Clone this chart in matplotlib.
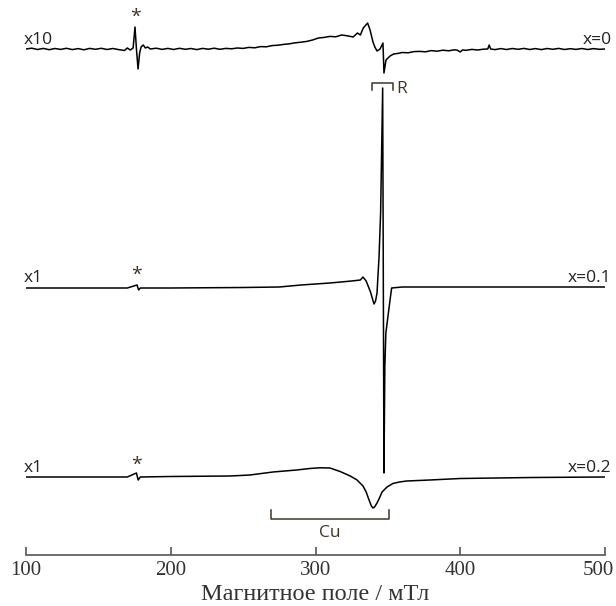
import numpy as np
import matplotlib
matplotlib.use('Agg')
from matplotlib import pyplot as plt
from matplotlib import transforms

# spectra: field (mT) and signal (arb. units, baseline = 0)
field_x0 = [100, 104, 108, 112, 116, 120, 124, 128, 132, 136, 140, 144, 148, 152, 156,
            160, 164, 168, 170, 172, 174, 175.3, 176.3, 177.4, 178.5, 179.5, 181, 182.5,
            184, 186, 190, 194, 198, 202, 206, 210, 214, 218, 222, 226, 230, 234, 238,
            242, 246, 250, 254, 258, 262, 266, 270, 274, 278, 282, 286, 290, 294, 298,
            302, 306, 310, 314, 318, 322, 326, 329, 331, 333, 336, 337.7, 339.7, 341,
            342.5, 344.6, 346.6, 347.3, 348.7, 351.5, 354, 357, 360, 364, 368, 372, 376,
            380, 384, 388, 392, 396, 398, 400, 401.5, 404, 408, 412, 416, 419, 420, 421,
            424, 428, 432, 436, 440, 444, 448, 452, 456, 460, 464, 468, 472, 476, 480,
            484, 488, 492, 496, 500]
signal_x0 = [0, 0.8, -0.5, 0.6, -0.7, 0.5, -0.4, 0.7, -0.6, 0.4, -0.8, 0.6, -0.3, 0.7, -0.5,
             0.5, -0.6, -1.5, 1, -1, 1, 22, 0, -20, -4, 2, 4, 1,
             2, 0, 0.8, -0.4, 0.6, -0.5, 0.7, -0.3, 0.5, -0.6, 0.6, -0.2, 0.8, -0.3, 0.6,
             0.2, 1, 0.6, 1.6, 1.2, 2.4, 2.2, 3.4, 3.8, 4.6, 5.2, 6.2, 6.8, 7.6, 9,
             11, 11.6, 12.6, 12.2, 14, 13.2, 12, 16, 14, 21, 26, 19, 7, 2,
             -2, 0, 6, -24, -11, -7, -5, -4.4, -3.5, -3.8, -2.6, -2.4, -2.8,
             -1.6, -2.2, -1.2, -1.8, -0.8, -1.2, -3, -1, -1.3, -0.4, -1, -0.2, 0, 4, 0,
             -0.6, 0.4, -0.5, 0.5, -0.3, 0.6, -0.5, 0.4, -0.6, 0.5, -0.3, 0.6, -0.5, 0.3, -0.4,
             0.5, -0.5, 0.4, -0.3, 0]

field_x01 = [100, 170, 176.7, 177.8, 179, 200, 250, 275, 290, 310, 325, 331, 332.8,
             335, 338, 340.4, 341.5, 342.5, 343.9, 345, 346.4, 347.3, 347.9, 348.6,
             351.5, 352.6, 360, 500]
signal_x01 = [-1, -1, 2, -3, -1, -1, -0.5, 0, 2, 4, 6, 7, 10,
              6, -5, -17, -14, -6, 30, 75, 199, -186, -80, -46,
              -13, -1, 0, 0]

field_x02 = [100, 170, 176.3, 177.5, 179, 200, 241, 254.7, 270.6, 287, 296, 303, 310,
             317, 324, 328.7, 332.8, 335, 337, 338.6, 339.7, 340.8, 342.5, 344.5, 346,
             349.4, 353.5, 358, 363, 379, 400, 450, 500]
signal_x02 = [0, 0, 4, -3, 0, 0.5, 1, 2, 5, 7, 8.5, 9.2, 9,
              5.5, 1, -3, -9, -15, -23, -29, -31, -30, -26, -20, -15,
              -10, -6.5, -5, -4, -3, -1.5, -0.5, 0]

offsets = [506, 268, 78]
gains = ['x10', 'x1', 'x1']
names = ['x=0', 'x=0.1', 'x=0.2']
star_field = [175.5, 176.7, 176.7]
star_height = [32, 12, 12]

r_range = [339, 353.5]
cu_range = [269.3, 350.8]

ink = '#3d3528'
sans = ['Open Sans', 'DejaVu Sans']
serif = ['Liberation Serif', 'DejaVu Serif']

fig = plt.figure(figsize=(6.16, 6.06), dpi=100)
ax = fig.add_axes([26 / 616, 51 / 606, 579 / 616, 555 / 606])
ax.set_xlim(100, 500)
ax.set_ylim(0, 555)

traces = [(field_x0, signal_x0), (field_x01, signal_x01), (field_x02, signal_x02)]
for (f, s), off, g, n, sf, sh in zip(traces, offsets, gains, names, star_field, star_height):
    ax.plot(f, np.array(s) + off, color='black', lw=1.1, solid_joinstyle='round')
    ax.text(98.6, off + 9, g, ha='left', va='center', fontsize=12.5, family=sans, color='#222')
    ax.text(504.5, off + 9, n, ha='right', va='center', fontsize=12.5, family=sans, color='#222')
    ax.text(sf, off + sh, '*', ha='center', va='center', fontsize=14, family=sans, color=ink)

# R bracket
ax.plot([r_range[0], r_range[0], r_range[1], r_range[1]], [465, 472, 472, 465],
        color=ink, lw=1.1)
ax.text(r_range[1] + 2.5, 466, 'R', ha='left', va='center', fontsize=12.5, family=sans, color=ink)

# Cu bracket
ax.plot([cu_range[0], cu_range[0], cu_range[1], cu_range[1]], [45, 36, 36, 45],
        color=ink, lw=1.1)
ax.text(sum(cu_range) / 2, 22, 'Cu', ha='center', va='center', fontsize=12.5, family=sans, color=ink)

for side in ['left', 'top', 'right']:
    ax.spines[side].set_visible(False)
ax.spines['bottom'].set_color('#555555')
ax.spines['bottom'].set_linewidth(1.2)
ax.set_yticks([])
ax.set_xticks([100, 200, 300, 400, 500])
ax.tick_params(axis='x', direction='in', length=6, width=1.2, color='#555555',
               labelsize=15, labelcolor='#333333', pad=4)
for lab in ax.get_xticklabels():
    lab.set_family(serif)
last = ax.get_xticklabels()[-1]
last.set_transform(last.get_transform() + transforms.ScaledTranslation(-7 / 100, 0, fig.dpi_scale_trans))
ax.set_xlabel('Магнитное поле / мТл', fontsize=17.5, family=serif, color='#333333', labelpad=3)

fig.savefig('out.png', dpi=100)
